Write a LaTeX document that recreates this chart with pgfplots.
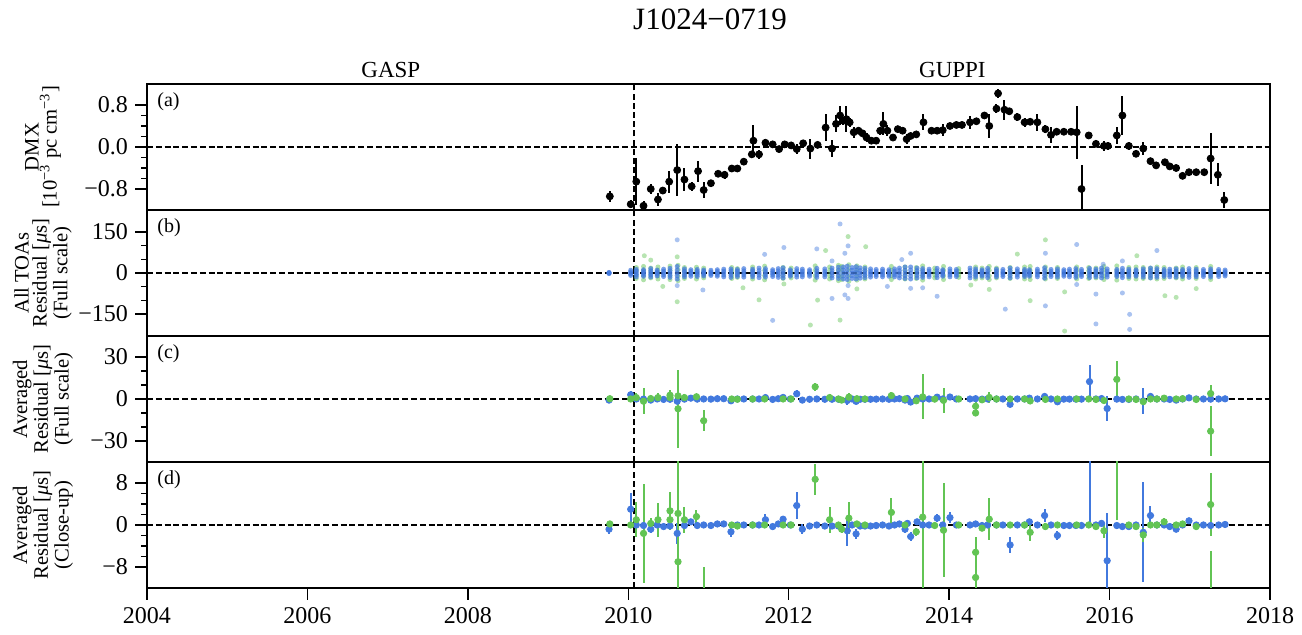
\documentclass[border=0pt]{standalone}
\usepackage{pgfplots}
\pgfplotsset{compat=1.18}
\usepackage{pgfplotstable}
\usepackage{fontspec}
\setmainfont{Liberation Serif}
\definecolor{pblue}{RGB}{66,121,222}
\definecolor{pgreen}{RGB}{98,196,84}

% ---------------- DMX ----------------
\pgfplotstableread{
x y e
2009.77 -0.94 0.10
2010.03 -1.09 0.08
2010.10 -0.66 0.45
2010.19 -1.12 0.10
2010.28 -0.80 0.10
2010.37 -1.00 0.12
2010.43 -0.83 0.06
2010.51 -0.66 0.21
2010.61 -0.44 0.50
2010.70 -0.62 0.22
2010.79 -0.75 0.08
2010.87 -0.46 0.20
2010.94 -0.82 0.16
2011.03 -0.69 0.05
2011.12 -0.51 0.05
2011.20 -0.53 0.08
2011.29 -0.41 0.07
2011.36 -0.41 0.07
2011.44 -0.28 0.07
2011.54 -0.14 0.07
2011.56 0.12 0.29
2011.63 -0.14 0.08
2011.71 0.08 0.07
2011.80 0.05 0.05
2011.88 -0.04 0.05
2011.95 0.05 0.07
2012.03 0.03 0.05
2012.10 -0.04 0.10
2012.18 0.07 0.06
2012.27 -0.03 0.19
2012.36 0.04 0.05
2012.46 0.37 0.25
2012.54 -0.03 0.16
2012.59 0.44 0.16
2012.64 0.60 0.19
2012.68 0.50 0.08
2012.72 0.53 0.25
2012.76 0.47 0.08
2012.81 0.28 0.10
2012.87 0.31 0.06
2012.92 0.26 0.06
2012.97 0.18 0.08
2013.03 0.12 0.05
2013.09 0.12 0.05
2013.14 0.31 0.08
2013.18 0.44 0.22
2013.23 0.31 0.10
2013.30 0.18 0.05
2013.36 0.34 0.05
2013.42 0.31 0.05
2013.47 0.15 0.10
2013.52 0.21 0.05
2013.59 0.24 0.05
2013.68 0.47 0.15
2013.78 0.31 0.05
2013.85 0.31 0.06
2013.92 0.32 0.12
2014.01 0.40 0.05
2014.09 0.42 0.05
2014.16 0.42 0.05
2014.26 0.47 0.12
2014.34 0.49 0.05
2014.44 0.60 0.06
2014.50 0.40 0.22
2014.59 0.73 0.08
2014.61 1.02 0.08
2014.69 0.71 0.19
2014.75 0.68 0.06
2014.85 0.57 0.08
2014.94 0.47 0.08
2015.01 0.48 0.05
2015.10 0.47 0.16
2015.20 0.34 0.08
2015.27 0.23 0.16
2015.34 0.29 0.06
2015.43 0.29 0.06
2015.52 0.29 0.06
2015.59 0.28 0.50
2015.65 -0.80 0.45
2015.74 0.22 0.05
2015.83 0.06 0.05
2015.93 0.02 0.10
2015.98 0.02 0.07
2016.09 0.22 0.16
2016.16 0.60 0.38
2016.24 0.02 0.07
2016.33 -0.13 0.05
2016.42 -0.03 0.13
2016.51 -0.27 0.05
2016.58 -0.35 0.05
2016.69 -0.29 0.05
2016.75 -0.37 0.05
2016.83 -0.40 0.05
2016.91 -0.55 0.05
2016.99 -0.48 0.05
2017.08 -0.48 0.05
2017.18 -0.48 0.05
2017.26 -0.22 0.48
2017.35 -0.53 0.22
2017.43 -1.01 0.16
}\dmx

% ---------------- All TOAs (core, blue) ----------------
\pgfplotstableread{
x a b c d e
2009.76 -2 0 2 -1 1
2010.03 -9 -4 0 4 10
2010.10 -14 -6 0 7 13
2010.19 -12 -5 1 6 12
2010.28 -15 -7 0 8 16
2010.36 -11 -5 0 5 11
2010.44 -13 -6 1 7 14
2010.52 -16 -8 0 8 17
2010.61 -22 -10 0 11 24
2010.70 -14 -7 1 7 15
2010.78 -12 -5 0 6 12
2010.86 -13 -6 0 6 13
2010.94 -11 -4 0 5 11
2011.03 -9 -4 0 4 10
2011.11 -12 -6 0 6 12
2011.19 -14 -7 1 7 14
2011.28 -16 -8 0 8 15
2011.36 -13 -6 0 7 13
2011.44 -15 -7 0 8 16
2011.55 -14 -7 0 7 14
2011.63 -17 -8 0 9 18
2011.71 -15 -7 1 8 16
2011.80 -13 -6 0 6 12
2011.87 -16 -8 0 8 16
2011.93 -18 -9 0 9 19
2012.02 -12 -6 0 6 12
2012.10 -15 -7 1 8 16
2012.17 -14 -7 0 7 14
2012.26 -12 -5 0 6 12
2012.35 -16 -8 0 8 17
2012.45 -14 -6 0 7 15
2012.54 -18 -9 0 9 18
2012.62 -20 -10 0 10 21
2012.68 -22 -11 0 11 22
2012.73 -24 -12 0 12 25
2012.79 -20 -10 0 10 20
2012.84 -22 -11 1 11 23
2012.89 -19 -9 0 9 19
2012.95 -17 -8 0 8 17
2013.02 -15 -7 0 7 15
2013.09 -13 -6 0 6 13
2013.17 -14 -7 0 7 14
2013.25 -12 -6 0 6 12
2013.32 -14 -7 0 7 15
2013.38 -18 -9 0 9 18
2013.45 -20 -10 0 10 22
2013.52 -22 -11 0 11 22
2013.60 -18 -9 0 9 18
2013.67 -16 -8 0 8 16
2013.75 -14 -7 0 7 14
2013.85 -17 -8 0 8 17
2013.92 -12 -6 0 6 12
2014.01 -14 -7 0 7 15
2014.09 -13 -6 0 6 13
2014.26 -18 -9 0 9 18
2014.33 -15 -7 0 7 15
2014.41 -12 -6 0 6 12
2014.48 -17 -8 0 8 17
2014.59 -14 -7 0 7 14
2014.67 -13 -6 0 6 13
2014.76 -18 -9 0 9 18
2014.85 -15 -7 0 7 15
2014.94 -13 -6 0 6 13
2015.00 -12 -6 0 6 12
2015.10 -14 -7 0 7 14
2015.19 -19 -9 0 9 19
2015.27 -13 -6 0 6 13
2015.35 -15 -7 0 7 15
2015.43 -12 -6 0 6 12
2015.50 -14 -7 0 7 14
2015.58 -16 -8 0 8 16
2015.65 -13 -6 0 6 13
2015.75 -17 -8 0 8 17
2015.83 -14 -7 0 7 14
2015.90 -18 -9 0 9 18
2015.97 -15 -7 0 7 15
2016.09 -13 -6 0 6 13
2016.16 -17 -8 0 8 17
2016.24 -14 -7 0 7 14
2016.33 -12 -6 0 6 12
2016.42 -15 -7 0 7 15
2016.51 -18 -9 0 9 18
2016.59 -16 -8 0 8 16
2016.68 -13 -6 0 6 13
2016.75 -14 -7 0 7 14
2016.83 -15 -7 0 7 15
2016.91 -13 -6 0 6 13
2016.99 -16 -8 0 8 16
2017.08 -14 -7 0 7 14
2017.17 -13 -6 0 6 13
2017.26 -15 -7 0 7 15
2017.36 -13 -6 0 6 13
2017.44 -11 -5 0 5 11
}\toaB

% ---------------- All TOAs (core, green) ----------------
\pgfplotstableread{
x a b c d
2010.10 -20 -8 8 20
2010.19 -25 -10 10 24
2010.28 -18 -7 7 18
2010.37 -22 -9 9 22
2010.52 -24 -10 10 25
2010.62 -28 -12 12 28
2010.70 -20 -8 8 20
2010.85 -22 -9 9 21
2010.94 -18 -7 7 18
2011.29 -20 -8 8 20
2011.36 -16 -6 6 16
2011.55 -22 -9 9 22
2011.70 -25 -10 10 25
2011.93 -20 -8 8 20
2012.03 -18 -7 7 18
2012.33 -26 -10 10 26
2012.51 -22 -9 9 22
2012.62 -28 -12 12 28
2012.66 -24 -10 10 24
2012.75 -30 -12 12 30
2012.85 -26 -10 10 26
2012.95 -22 -9 9 22
2013.28 -24 -10 10 24
2013.45 -22 -9 9 22
2013.59 -20 -8 8 20
2013.67 -26 -10 10 26
2013.82 -18 -7 7 18
2013.93 -24 -10 10 24
2014.12 -16 -6 6 16
2014.33 -22 -9 9 22
2014.41 -18 -7 7 18
2014.50 -24 -10 10 24
2014.59 -18 -7 7 18
2014.76 -20 -8 8 20
2014.94 -22 -9 9 22
2015.01 -24 -10 10 24
2015.20 -22 -9 9 22
2015.35 -20 -8 8 20
2015.59 -22 -9 9 22
2015.74 -20 -8 8 20
2015.83 -18 -7 7 18
2015.93 -24 -10 10 24
2016.09 -26 -10 10 26
2016.24 -20 -8 8 20
2016.33 -22 -9 9 22
2016.42 -20 -8 8 20
2016.51 -18 -7 7 18
2016.59 -22 -9 9 22
2016.68 -20 -8 8 20
2016.83 -18 -7 7 18
2016.91 -22 -9 9 22
2017.08 -20 -8 8 20
2017.26 -24 -10 10 24
}\toaG

% ---------------- All TOAs (outliers) ----------------
\pgfplotstableread{
x y
2010.61 121
2010.61 -46
2010.93 -62
2011.70 68
2011.80 -173
2011.94 93
2012.35 88
2012.54 44
2012.54 -93
2012.64 179
2012.70 72
2012.74 99
2012.74 -46
2012.70 -80
2012.74 -93
2013.23 -49
2013.41 49
2013.52 72
2013.52 -56
2013.67 -54
2013.85 -85
2014.70 -132
2015.20 72
2015.20 -120
2015.59 104
2015.59 -42
2015.83 -77
2015.83 -186
2016.16 -73
2016.25 -151
2016.25 -206
2016.59 82
2015.92 32
2016.16 44
}\outB

\pgfplotstableread{
x y
2010.20 63
2010.28 47
2010.43 -49
2010.61 59
2010.61 -105
2011.43 -54
2011.63 -98
2011.94 -40
2012.27 -190
2012.36 -99
2012.46 82
2012.74 133
2012.64 -172
2012.85 -58
2012.96 96
2014.27 -44
2014.50 -60
2014.85 69
2015.01 -101
2015.20 121
2015.44 -69
2015.44 -212
2016.34 63
2016.69 -83
2016.83 -89
2017.08 -57
}\outG

% ---------------- Averaged residuals: value and 1-sigma error ----------------
\pgfplotstableread{
x y e
2009.76 -0.8 1.0
2010.03 3.0 3.0
2010.10 0.0 0.5
2010.19 -0.1 0.5
2010.28 -0.8 0.7
2010.36 0.0 0.5
2010.44 -0.3 0.5
2010.52 -0.2 0.5
2010.61 -1.6 2.0
2010.70 -0.1 0.5
2010.78 0.6 0.6
2010.86 -0.1 0.5
2010.94 0.0 0.5
2011.03 -0.1 0.5
2011.11 0.2 0.5
2011.19 0.2 0.5
2011.28 -1.3 1.0
2011.36 0.0 0.5
2011.44 0.0 0.5
2011.55 0.0 0.5
2011.63 0.0 0.5
2011.71 1.0 1.0
2011.80 -0.3 0.5
2011.87 0.2 0.5
2011.93 1.1 0.7
2012.02 0.0 0.5
2012.10 3.7 2.5
2012.17 -0.8 1.0
2012.26 -0.2 0.5
2012.35 0.0 0.5
2012.45 -0.2 0.5
2012.54 -0.2 0.5
2012.62 -0.2 0.5
2012.73 -1.1 2.9
2012.79 0.0 0.5
2012.84 -1.7 1.0
2012.89 -0.2 0.5
2012.95 -0.2 0.5
2013.02 -0.2 0.5
2013.09 -0.1 0.5
2013.17 0.0 0.5
2013.25 -0.2 0.5
2013.32 0.0 0.5
2013.38 0.2 0.5
2013.45 -0.8 0.7
2013.48 0.3 0.5
2013.52 -2.2 0.9
2013.60 0.6 0.6
2013.67 0.0 0.5
2013.75 0.0 0.5
2013.85 1.3 0.8
2013.92 0.0 0.5
2014.01 1.4 1.0
2014.09 0.0 0.5
2014.26 0.0 0.5
2014.33 0.2 0.5
2014.41 -0.1 0.5
2014.48 0.0 0.5
2014.59 0.0 0.5
2014.67 0.0 0.5
2014.76 -3.8 1.6
2014.85 0.0 0.5
2014.94 0.0 0.5
2015.00 0.6 0.5
2015.10 0.0 0.5
2015.19 1.8 1.2
2015.27 0.0 0.5
2015.35 -2.0 0.8
2015.43 -0.1 0.5
2015.50 -0.1 0.5
2015.58 -0.1 0.5
2015.65 -0.1 0.5
2015.75 12.4 12.0
2015.83 0.0 0.5
2015.90 0.3 0.5
2015.97 -6.8 9.0
2016.09 -0.1 0.5
2016.16 -0.3 0.5
2016.24 -0.3 0.5
2016.33 0.0 0.5
2016.42 -1.4 9.5
2016.51 1.8 1.9
2016.59 0.0 0.5
2016.68 0.0 0.5
2016.75 -0.3 0.5
2016.83 -0.8 0.6
2016.91 0.0 0.5
2016.99 0.8 0.6
2017.08 0.0 0.5
2017.17 0.0 0.5
2017.26 -0.1 0.5
2017.36 0.0 0.5
2017.44 0.1 0.5
}\avgB

\pgfplotstableread{
x y e
2009.77 0.2 0.5
2010.03 0.0 0.6
2010.10 1.0 3.3
2010.19 -1.6 9.4
2010.28 0.3 1.0
2010.37 1.0 3.2
2010.52 2.7 3.6
2010.52 1.0 1.0
2010.62 2.2 12.0
2010.62 -7.0 28.0
2010.70 1.0 2.5
2010.85 1.6 1.2
2010.94 -15.5 7.5
2011.29 0.0 0.5
2011.36 -0.2 0.5
2011.55 0.0 0.5
2011.70 0.0 0.5
2011.93 0.0 0.5
2012.03 0.0 0.5
2012.33 8.7 3.0
2012.51 1.0 2.5
2012.62 0.0 0.5
2012.66 -0.8 0.8
2012.75 1.3 3.0
2012.85 0.2 0.6
2012.95 0.0 0.6
2013.28 2.4 2.8
2013.45 0.0 0.5
2013.59 -1.3 0.8
2013.67 1.5 16.0
2013.82 -0.1 0.5
2013.93 -1.0 9.0
2014.12 0.0 0.5
2014.33 -5.2 3.0
2014.33 -10.0 2.0
2014.41 -0.6 0.6
2014.50 1.1 4.0
2014.59 0.0 0.5
2014.76 0.0 0.5
2014.94 0.0 0.5
2015.01 -1.4 1.6
2015.20 -0.3 0.6
2015.35 0.0 0.5
2015.59 0.0 0.5
2015.74 0.0 0.6
2015.83 -0.3 0.6
2015.93 -1.1 1.3
2016.09 14.0 13.0
2016.24 0.0 0.6
2016.33 -0.3 0.6
2016.42 -1.9 1.3
2016.51 0.0 0.5
2016.59 0.0 0.6
2016.68 0.6 0.8
2016.83 0.0 0.5
2016.91 0.2 0.6
2017.08 -0.3 0.6
2017.26 3.9 6.0
2017.26 -23.0 18.0
}\avgG

\pgfplotsset{
  panel/.style={
    scale only axis, width=561.5pt, height=63pt,
    xmin=2004, xmax=2018,
    axis line style={line width=1.15pt},
    every tick/.style={black, line width=0.7pt},
    major tick length=6pt, minor tick length=3pt,
    tick align=outside,
    ytick pos=left, xtick pos=left,
    yticklabel style={font=\fontsize{12}{14}\selectfont},
    xticklabel style={font=\fontsize{12}{14}\selectfont},
    xtick=\empty,
  },
  zline/.style={black, dashed, line width=0.6pt, dash pattern=on 3pt off 1.4pt},
  vline/.style={black, line width=0.85pt, dash pattern=on 3pt off 1.6pt},
  toa/.style 2 args={only marks, mark=*, mark size=1.25pt, color=#1,
    mark options={draw opacity=0, fill=#1, fill opacity=#2}},
  avg/.style={only marks, mark=*, mark size=1.6pt, color=#1, mark options={solid, fill=#1},
    error bars/y dir=both, error bars/y explicit, error bars/error mark=none,
    error bars/error bar style={line width=1pt, draw=#1, solid}},
}

\begin{document}
\begin{tikzpicture}
\useasboundingbox (-73.5pt,-23.5pt) rectangle (577.5pt,294pt);

% (a) DMX
\begin{axis}[panel, at={(0pt,189pt)}, anchor=south west,
  ymin=-1.2, ymax=1.2, ytick={-0.8,0,0.8}, yticklabels={−0.8,0.0,0.8}, minor y tick num=3]
  \addplot[zline] coordinates {(2004,0) (2018,0)};
  \addplot[vline] coordinates {(2010.075,-1.2) (2010.075,1.2)};
  \addplot[only marks, mark=*, mark size=1.75pt, black,
    error bars/y dir=both, error bars/y explicit, error bars/error mark=none,
    error bars/error bar style={line width=1pt, draw=black, solid}]
    table[x=x, y=y, y error=e] {\dmx};
\end{axis}

% (b) All TOAs
\begin{axis}[panel, at={(0pt,126pt)}, anchor=south west,
  ymin=-230, ymax=230, ytick={-150,0,150}, yticklabels={−150,0,150}, minor y tick num=2]
  \addplot[zline] coordinates {(2004,0) (2018,0)};
  \addplot[vline] coordinates {(2010.075,-230) (2010.075,230)};
  \addplot[toa={pgreen}{0.45}] table[x=x, y=y] {\outG};
  \pgfplotsinvokeforeach{a,b,c,d}{\addplot[toa={pgreen}{0.5}] table[x=x, y=#1] {\toaG};}
  \addplot[toa={pblue}{0.45}] table[x=x, y=y] {\outB};
  \pgfplotsinvokeforeach{a,b,c,d,e}{\addplot[toa={pblue}{0.7}] table[x=x, y=#1] {\toaB};}
\end{axis}

% (c) Averaged full scale
\begin{axis}[panel, at={(0pt,63pt)}, anchor=south west,
  ymin=-45, ymax=45, ytick={-30,0,30}, yticklabels={−30,0,30}, minor y tick num=2]
  \addplot[zline] coordinates {(2004,0) (2018,0)};
  \addplot[vline] coordinates {(2010.075,-45) (2010.075,45)};
  \addplot[avg=pblue] table[x=x, y=y, y error=e] {\avgB};
  \addplot[avg=pgreen] table[x=x, y=y, y error=e] {\avgG};
\end{axis}

% (d) Averaged close-up
\begin{axis}[panel, at={(0pt,0pt)}, anchor=south west,
  ymin=-12, ymax=12, ytick={-8,0,8}, yticklabels={−8,0,8}, minor y tick num=3,
  xtick={2004,2006,...,2018}, xticklabels={2004,2006,2008,2010,2012,2014,2016,2018},
  minor x tick num=3]
  \addplot[zline] coordinates {(2004,0) (2018,0)};
  \addplot[vline] coordinates {(2010.075,-12) (2010.075,12)};
  \addplot[avg=pblue] table[x=x, y=y, y error=e] {\avgB};
  \addplot[avg=pgreen] table[x=x, y=y, y error=e] {\avgG};
\end{axis}

% texts
\node[anchor=base, font=\fontsize{15.5}{18}\selectfont] at (281.5pt,279pt) {J1024−0719};
\node[anchor=base, inner sep=0pt, font=\fontsize{11.5}{13}\selectfont] at (121.9pt,255pt) {GASP};
\node[anchor=base, inner sep=0pt, font=\fontsize{11.5}{13}\selectfont] at (402.7pt,255pt) {GUPPI};
\foreach \lab/\yy in {a/248,b/185,c/122,d/59}{
  \node[anchor=north west, inner sep=0pt, font=\fontsize{10}{11}\selectfont] at (5pt,\yy pt) {(\lab)};
}
\begin{scope}[every node/.style={rotate=90, align=center, font=\fontsize{10.3}{9}\selectfont}]
\node at (-52pt,220.5pt) {DMX\\{}[10\textsuperscript{−3} pc cm\textsuperscript{−3}]};
\node at (-52pt,157.5pt) {All TOAs\\Residual [\textit{μ}s]\\(Full scale)};
\node at (-52pt,94.5pt) {Averaged\\Residual [\textit{μ}s]\\(Full scale)};
\node at (-52pt,31.5pt) {Averaged\\Residual [\textit{μ}s]\\(Close-up)};
\end{scope}
\end{tikzpicture}
\end{document}
